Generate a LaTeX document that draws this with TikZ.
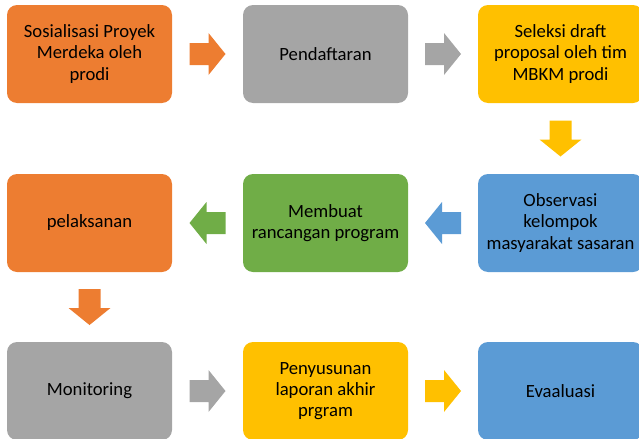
\documentclass[tikz,border=0pt]{standalone}
\usepackage{fontspec}
\setmainfont{Carlito}
\usetikzlibrary{calc}
\definecolor{cOrange}{HTML}{ED7D31}
\definecolor{cGray}{HTML}{A5A5A5}
\definecolor{cYellow}{HTML}{FFC000}
\definecolor{cBlue}{HTML}{5B9BD5}
\definecolor{cGreen}{HTML}{70AD47}
\tikzset{
  stepbox/.style={rounded corners=7.5pt, minimum width=123.75pt, minimum height=73.5pt,
    inner sep=0pt, align=center, text=black, font=\fontsize{14}{15.9}\selectfont},
  pics/barrow/.style={code={\fill[#1] (-18,-11) -- (1,-11) -- (1,-21) -- (18,0) -- (1,21) -- (1,11) -- (-18,11) -- cycle;}}
}
\begin{document}
\begin{tikzpicture}[x=0.75pt,y=-0.75pt]
\useasboundingbox (0,0) rectangle (639,439);
\begin{scope}
\clip (0,0) rectangle (639,439);
\node[stepbox, fill=cOrange] (b1) at (89.5,54) {Sosialisasi Proyek\\Merdeka oleh\\prodi};
\node[stepbox, fill=cGray] (b2) at (325.5,54) {Pendaftaran};
\node[stepbox, fill=cYellow] (b3) at (560.5,54) {Seleksi draft\\proposal oleh tim\\MBKM prodi};
\node[stepbox, fill=cBlue] (b4) at (560.5,223) {Observasi\\kelompok\\masyarakat sasaran};
\node[stepbox, fill=cGreen] (b5) at (325.5,223) {Membuat\\rancangan program};
\node[stepbox, fill=cOrange] (b6) at (89.5,223) {pelaksanan};
\node[stepbox, fill=cGray] (b7) at (89.5,391) {Monitoring};
\node[stepbox, fill=cYellow] (b8) at (325.5,391) {Penyusunan\\laporan akhir\\prgram};
\node[stepbox, fill=cBlue] (b9) at (560.5,391) {Evaaluasi};
\end{scope}
\coordinate (a12) at ($(b1.east)!0.5!(b2.west)$);
\coordinate (a23) at ($(b2.east)!0.5!(b3.west)$);
\coordinate (a34) at ($(b3.south)!0.5!(b4.north)$);
\coordinate (a45) at ($(b4.west)!0.5!(b5.east)$);
\coordinate (a56) at ($(b5.west)!0.5!(b6.east)$);
\coordinate (a67) at ($(b6.south)!0.5!(b7.north)$);
\coordinate (a78) at ($(b7.east)!0.5!(b8.west)$);
\coordinate (a89) at ($(b8.east)!0.5!(b9.west)$);
\pic at (a12) {barrow=cOrange};
\pic at (a23) {barrow=cGray};
\pic[rotate=-90] at (a34) {barrow=cYellow};
\pic[rotate=180] at (a45) {barrow=cBlue};
\pic[rotate=180] at (a56) {barrow=cGreen};
\pic[rotate=-90] at (a67) {barrow=cOrange};
\pic at (a78) {barrow=cGray};
\pic at (a89) {barrow=cYellow};
\end{tikzpicture}
\end{document}
